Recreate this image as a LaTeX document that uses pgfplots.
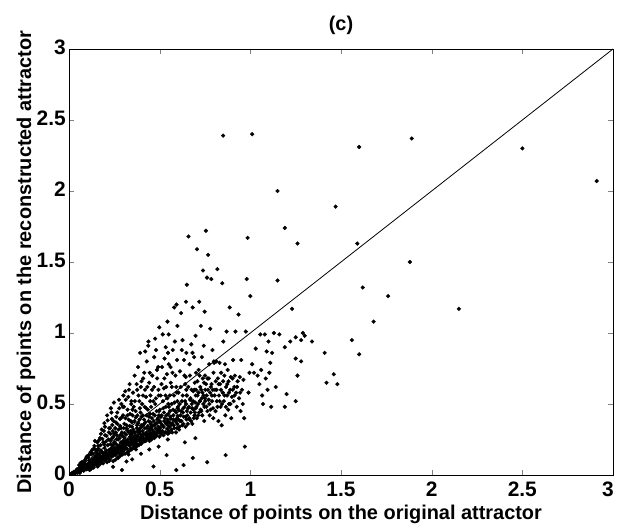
\documentclass[border=0pt]{standalone}
\usepackage{fontspec}
\setmainfont{Liberation Sans}
\usepackage{pgfplots}
\pgfplotsset{compat=1.18}
\newcommand{\labf}{\fontsize{20}{23}\selectfont\bfseries}
\newcommand{\tickf}{\fontsize{21}{24}\selectfont\bfseries}
\begin{document}
\begin{tikzpicture}
\begin{axis}[
  at={(0,0)}, anchor=south west,
  width=544bp, height=426bp, scale only axis,
  xmin=0, xmax=3, ymin=0, ymax=3,
  xtick={0,0.5,1,1.5,2,2.5,3}, ytick={0,0.5,1,1.5,2,2.5,3},
  xticklabels={0,0.5,1,1.5,2,2.5,{\hspace*{-10bp}3}},
  tick align=inside, major tick length=5bp,
  axis line style={line width=0.7pt},
  /pgf/number format/assume math mode=true,
  ticklabel style={font=\tickf, inner sep=1bp},
  xticklabel style={yshift=-6bp},
  yticklabel style={xshift=-2bp, yshift=2bp},
  title={(c)}, xlabel={Distance of points on the original attractor},
  ylabel={Distance of points on the reconstructed attractor},
  every axis title/.style={at={(axis description cs:0.5,1.056)}, anchor=center, font=\labf},
  every axis x label/.style={at={(axis description cs:0.5,-0.0915)}, anchor=center, font=\labf},
  every axis y label/.style={at={(axis description cs:-0.079,0.5)}, rotate=90, anchor=center, font=\labf},
]
\addplot[black, line width=0.8pt] coordinates {(0,0) (3,3)};
\addplot[only marks, mark=*, mark size=1.9pt, black] coordinates {
(0.012,0.008) (0.018,0.015) (0.024,0.010) (0.027,0.022) (0.031,0.018) (0.036,0.012) (0.038,0.030) (0.042,0.025) (0.045,0.041) (0.048,0.016)
(0.052,0.034) (0.055,0.021) (0.058,0.047) (0.061,0.038) (0.063,0.060) (0.066,0.029) (0.069,0.052) (0.071,0.043) (0.074,0.071) (0.077,0.036) (0.079,0.058) (0.082,0.049) (0.084,0.088) (0.087,0.062) (0.089,0.041) (0.092,0.075) (0.095,0.055) (0.098,0.130)
(0.101,0.066) (0.103,0.048) (0.106,0.081) (0.108,0.059) (0.111,0.102) (0.113,0.072) (0.115,0.054) (0.118,0.091) (0.120,0.067) (0.122,0.145) (0.124,0.084) (0.126,0.061) (0.128,0.110) (0.131,0.078) (0.133,0.096) (0.135,0.185) (0.137,0.070) (0.139,0.118) (0.141,0.088) (0.143,0.240) (0.145,0.104) (0.147,0.075) (0.148,0.132) (0.149,0.160)
(0.151,0.093) (0.153,0.112) (0.155,0.078) (0.157,0.140) (0.159,0.101) (0.161,0.205) (0.163,0.087) (0.165,0.122) (0.167,0.150) (0.169,0.098) (0.171,0.260) (0.173,0.116) (0.175,0.134) (0.177,0.172) (0.179,0.092) (0.181,0.320) (0.183,0.125) (0.185,0.108) (0.187,0.155) (0.189,0.230) (0.191,0.140) (0.193,0.118) (0.195,0.365) (0.196,0.190) (0.197,0.129) (0.198,0.102) (0.199,0.280) (0.200,0.160)
(0.202,0.132) (0.204,0.115) (0.206,0.172) (0.208,0.145) (0.210,0.420) (0.212,0.121) (0.214,0.210) (0.216,0.153) (0.218,0.135) (0.220,0.300) (0.222,0.178) (0.224,0.110) (0.226,0.162) (0.228,0.245) (0.230,0.141) (0.231,0.470) (0.233,0.188) (0.235,0.128) (0.237,0.170) (0.239,0.352) (0.240,0.150) (0.242,0.205) (0.243,0.058) (0.244,0.138) (0.245,0.270) (0.246,0.182) (0.247,0.160) (0.248,0.510) (0.249,0.225) (0.250,0.145) (0.236,0.395) (0.227,0.330)
(0.252,0.168) (0.254,0.190) (0.256,0.142) (0.258,0.300) (0.260,0.175) (0.262,0.215) (0.264,0.155) (0.266,0.440) (0.268,0.198) (0.270,0.162) (0.272,0.250) (0.274,0.182) (0.276,0.530) (0.278,0.210) (0.280,0.150) (0.282,0.345) (0.284,0.192) (0.286,0.230) (0.288,0.170) (0.290,0.405) (0.291,0.205) (0.292,0.035) (0.293,0.185) (0.294,0.275) (0.295,0.220) (0.296,0.165) (0.297,0.480) (0.298,0.240) (0.299,0.196) (0.300,0.560) (0.259,0.370) (0.271,0.120) (0.285,0.285) (0.263,0.250)
(0.302,0.205) (0.304,0.178) (0.306,0.262) (0.308,0.225) (0.310,0.590) (0.312,0.195) (0.314,0.240) (0.316,0.330) (0.318,0.212) (0.320,0.185) (0.322,0.420) (0.324,0.250) (0.326,0.228) (0.328,0.145) (0.330,0.300) (0.332,0.208) (0.334,0.640) (0.336,0.268) (0.338,0.235) (0.340,0.380) (0.341,0.190) (0.342,0.255) (0.343,0.500) (0.344,0.218) (0.345,0.282) (0.346,0.245) (0.347,0.340) (0.348,0.110) (0.349,0.230) (0.350,0.460) (0.305,0.360) (0.317,0.095) (0.327,0.550) (0.339,0.310)
(0.352,0.232) (0.354,0.265) (0.356,0.205) (0.358,0.300) (0.360,0.248) (0.362,0.700) (0.364,0.222) (0.366,0.280) (0.368,0.405) (0.370,0.255) (0.372,0.238) (0.374,0.330) (0.376,0.600) (0.378,0.270) (0.380,0.215) (0.382,0.365) (0.384,0.290) (0.386,0.250) (0.388,0.520) (0.390,0.242) (0.391,0.305) (0.392,0.860) (0.393,0.262) (0.394,0.440) (0.395,0.228) (0.396,0.285) (0.397,0.150) (0.398,0.350) (0.399,0.258) (0.400,0.660) (0.357,0.480) (0.369,0.180) (0.381,0.760) (0.387,0.315)
(0.402,0.272) (0.404,0.245) (0.406,0.310) (0.408,0.560) (0.410,0.262) (0.412,0.290) (0.414,0.390) (0.416,0.238) (0.418,0.330) (0.420,0.870) (0.422,0.280) (0.424,0.255) (0.426,0.470) (0.428,0.300) (0.430,0.268) (0.432,0.620) (0.434,0.345) (0.436,0.285) (0.438,0.940) (0.440,0.250) (0.441,0.410) (0.442,0.312) (0.443,0.180) (0.444,0.275) (0.445,0.720) (0.446,0.325) (0.447,0.292) (0.448,0.520) (0.449,0.262) (0.450,0.370) (0.415,0.720) (0.437,0.910)
(0.452,0.295) (0.454,0.340) (0.456,0.270) (0.458,0.600) (0.460,0.318) (0.462,0.285) (0.464,0.430) (0.466,0.060) (0.468,0.305) (0.470,0.830) (0.472,0.352) (0.474,0.290) (0.476,0.500) (0.478,0.328) (0.480,0.880) (0.482,0.275) (0.484,0.365) (0.486,0.680) (0.488,0.312) (0.490,0.400) (0.491,0.298) (0.492,0.760) (0.493,0.340) (0.494,0.200) (0.495,0.560) (0.496,0.322) (0.497,0.450) (0.498,1.040) (0.499,0.308) (0.500,0.380)
(0.502,0.330) (0.505,0.295) (0.507,0.410) (0.510,0.640) (0.512,0.352) (0.515,0.310) (0.517,0.990) (0.520,0.470) (0.522,0.338) (0.525,0.380) (0.527,0.820) (0.530,0.300) (0.532,0.560) (0.535,0.362) (0.537,0.420) (0.540,0.710) (0.541,0.325) (0.543,1.080) (0.544,0.390) (0.545,0.250) (0.546,0.860) (0.547,0.348) (0.548,0.500) (0.549,0.310) (0.550,0.990) (0.523,0.610) (0.538,0.140) (0.533,0.900)
(0.552,0.372) (0.555,0.340) (0.557,0.450) (0.560,0.760) (0.562,0.395) (0.565,0.320) (0.567,0.620) (0.570,0.365) (0.572,0.880) (0.575,0.420) (0.577,0.350) (0.580,1.180) (0.582,0.510) (0.585,0.382) (0.587,0.700) (0.590,0.300) (0.591,0.440) (0.592,0.035) (0.593,1.200) (0.594,0.398) (0.595,0.580) (0.596,0.810) (0.597,0.360) (0.598,1.050) (0.599,0.470) (0.600,0.415)
(0.603,0.392) (0.606,0.455) (0.609,0.340) (0.612,0.730) (0.615,0.420) (0.618,1.140) (0.620,0.380) (0.623,0.520) (0.626,0.950) (0.628,0.440) (0.631,0.360) (0.634,0.810) (0.636,0.478) (0.639,0.230) (0.641,0.640) (0.643,0.410) (0.645,1.220) (0.646,0.500) (0.647,0.860) (0.648,0.392) (0.649,0.560) (0.650,1.340) (0.632,0.070) (0.644,0.690)
(0.653,0.420) (0.656,0.470) (0.659,1.680) (0.662,0.395) (0.665,0.780) (0.668,0.530) (0.671,0.440) (0.674,0.920) (0.677,0.500) (0.680,0.360) (0.682,1.180) (0.685,0.590) (0.687,0.460) (0.690,0.830) (0.692,0.420) (0.694,0.650) (0.696,0.510) (0.697,0.260) (0.698,0.980) (0.699,0.470) (0.700,0.720) (0.683,0.120)
(0.703,0.480) (0.706,1.590) (0.709,0.560) (0.712,0.420) (0.715,0.740) (0.718,1.220) (0.721,0.520) (0.724,0.620) (0.727,1.050) (0.730,0.450) (0.733,0.830) (0.736,0.580) (0.739,1.440) (0.741,0.500) (0.743,0.910) (0.745,0.650) (0.746,0.380) (0.748,1.150) (0.749,0.540) (0.750,0.700)
(0.752,0.600) (0.755,1.720) (0.758,0.480) (0.761,1.390) (0.764,0.680) (0.767,1.550) (0.770,0.530) (0.773,0.780) (0.776,0.420) (0.779,1.030) (0.782,0.620) (0.785,1.380) (0.788,0.560) (0.791,0.880) (0.794,0.470) (0.797,0.720) (0.799,0.800) (0.762,0.090)
(0.800,0.790) (0.805,0.600) (0.808,0.450) (0.812,0.800) (0.815,0.520) (0.818,1.450) (0.821,0.680) (0.824,0.380) (0.827,0.560) (0.830,0.790) (0.833,0.640) (0.836,0.480) (0.839,0.720) (0.842,0.350) (0.845,1.350) (0.848,0.580) (0.851,0.940) (0.854,0.520) (0.857,0.700) (0.860,0.780) (0.862,0.420) (0.864,0.140) (0.866,0.620) (0.869,1.010) (0.872,0.560) (0.875,0.740) (0.878,0.460) (0.880,0.660) (0.883,0.500) (0.886,1.180) (0.889,0.600) (0.892,0.690) (0.895,0.400) (0.898,0.550) (0.850,2.390)
(0.902,0.680) (0.905,0.810) (0.908,0.520) (0.912,0.620) (0.915,0.700) (0.918,1.010) (0.922,0.580) (0.925,0.480) (0.930,0.660) (0.935,1.130) (0.938,0.540) (0.942,0.690) (0.946,0.450) (0.950,0.810) (0.954,0.600) (0.958,0.500) (0.962,0.670) (0.966,0.400) (0.970,0.200) (0.975,1.010) (0.980,1.380) (0.985,1.670) (0.990,0.580) (0.995,0.720)
(1.010,2.400) (1.000,1.260) (1.010,0.780) (1.020,0.720) (1.030,0.890) (1.040,0.700) (1.050,0.640) (1.055,0.990) (1.060,0.740) (1.065,0.560) (1.070,0.500) (1.080,0.990) (1.085,0.680) (1.090,0.870) (1.095,0.600) (1.100,0.940) (1.105,0.720) (1.110,0.790) (1.115,0.480) (1.120,0.860) (1.130,1.000) (1.140,0.620) (1.150,1.370) (1.150,2.000) (1.160,0.990) (1.190,1.740) (1.190,0.900) (1.190,0.480) (1.200,0.570) (1.220,0.940) (1.230,1.170) (1.250,0.970) (1.250,0.520) (1.250,0.820) (1.260,1.630) (1.260,0.700) (1.280,0.950) (1.280,0.800) (1.290,1.000) (1.300,0.980)
(1.340,0.940) (1.410,0.860) (1.420,0.650) (1.460,0.710) (1.480,0.640) (1.560,0.950) (1.600,0.850) (1.680,1.080) (1.760,1.260) (1.620,1.320) (2.150,1.170) (1.880,1.500) (1.590,1.630) (1.470,1.890) (2.910,2.070) (2.500,2.300) (1.600,2.310) (1.890,2.370)
(0.056,0.070) (0.064,0.085) (0.072,0.092) (0.081,0.030) (0.088,0.105) (0.094,0.118) (0.097,0.040) (0.060,0.015)
(0.104,0.125) (0.109,0.140) (0.114,0.035) (0.119,0.160) (0.123,0.045) (0.127,0.175) (0.132,0.150) (0.136,0.052) (0.140,0.205) (0.144,0.125) (0.146,0.180)
(0.152,0.170) (0.156,0.230) (0.158,0.060) (0.162,0.185) (0.166,0.245) (0.170,0.075) (0.174,0.210) (0.176,0.290) (0.180,0.165) (0.184,0.255) (0.188,0.082) (0.192,0.310) (0.194,0.215) (0.198,0.340)
(0.203,0.235) (0.207,0.275) (0.209,0.090) (0.213,0.385) (0.217,0.250) (0.221,0.330) (0.223,0.100) (0.229,0.290) (0.232,0.215) (0.234,0.440) (0.238,0.260) (0.241,0.310) (0.244,0.098) (0.246,0.380) (0.249,0.290)
(0.251,0.230) (0.255,0.330) (0.257,0.108) (0.261,0.410) (0.265,0.280) (0.267,0.360) (0.269,0.125) (0.273,0.320) (0.277,0.470) (0.279,0.260) (0.281,0.395) (0.283,0.135) (0.287,0.330) (0.289,0.500) (0.292,0.300) (0.295,0.145) (0.298,0.420) (0.300,0.270)
(0.301,0.330) (0.303,0.480) (0.307,0.295) (0.309,0.150) (0.311,0.400) (0.313,0.530) (0.315,0.285) (0.319,0.350) (0.321,0.160) (0.323,0.460) (0.325,0.310) (0.329,0.390) (0.331,0.600) (0.333,0.170) (0.335,0.345) (0.337,0.430) (0.340,0.285) (0.344,0.520) (0.346,0.180) (0.348,0.370) (0.350,0.300)
(0.351,0.420) (0.353,0.580) (0.355,0.320) (0.359,0.190) (0.361,0.380) (0.363,0.520) (0.365,0.300) (0.367,0.450) (0.371,0.200) (0.373,0.640) (0.375,0.350) (0.377,0.420) (0.379,0.310) (0.383,0.560) (0.385,0.210) (0.389,0.390) (0.391,0.470) (0.393,0.330) (0.396,0.620) (0.398,0.220) (0.400,0.410)
(0.401,0.340) (0.403,0.500) (0.405,0.230) (0.407,0.420) (0.409,0.680) (0.411,0.355) (0.413,0.250) (0.417,0.480) (0.419,0.600) (0.421,0.370) (0.423,0.240) (0.425,0.550) (0.427,0.420) (0.429,0.800) (0.431,0.330) (0.433,0.260) (0.435,0.460) (0.439,0.380) (0.442,0.650) (0.444,0.240) (0.447,0.430) (0.449,0.560)
(0.451,0.360) (0.453,0.480) (0.455,0.250) (0.457,0.400) (0.459,0.700) (0.461,0.345) (0.463,0.270) (0.465,0.520) (0.467,0.380) (0.469,0.620) (0.471,0.260) (0.473,0.420) (0.475,0.960) (0.477,0.360) (0.479,0.540) (0.481,0.280) (0.483,0.450) (0.485,0.740) (0.487,0.390) (0.489,0.300) (0.493,0.600) (0.496,0.420) (0.499,0.270)
(0.501,0.460) (0.503,0.370) (0.506,0.560) (0.508,0.290) (0.511,0.420) (0.513,0.760) (0.516,0.350) (0.518,0.520) (0.521,0.280) (0.524,0.440) (0.526,0.680) (0.528,0.400) (0.531,0.300) (0.534,0.480) (0.536,0.620) (0.539,0.370) (0.542,0.540) (0.545,0.290) (0.548,0.430) (0.550,0.780)
(0.551,0.480) (0.554,0.300) (0.556,0.560) (0.559,0.410) (0.561,0.650) (0.564,0.360) (0.566,0.500) (0.569,0.300) (0.571,0.720) (0.574,0.460) (0.576,0.390) (0.579,0.560) (0.581,0.330) (0.584,0.940) (0.586,0.450) (0.589,0.380) (0.592,0.620) (0.595,0.330) (0.598,0.520)
(0.601,0.480) (0.604,0.580) (0.607,0.320) (0.610,0.500) (0.613,0.380) (0.616,0.620) (0.619,0.450) (0.622,0.880) (0.625,0.350) (0.627,0.560) (0.630,0.470) (0.633,0.410) (0.637,0.700) (0.640,0.520) (0.643,0.340) (0.647,0.600) (0.650,0.450)
(0.651,0.560) (0.655,0.360) (0.658,0.620) (0.661,0.480) (0.664,0.400) (0.667,0.700) (0.670,0.540) (0.673,0.380) (0.676,0.600) (0.679,0.470) (0.681,0.860) (0.684,0.520) (0.688,0.400) (0.691,0.600) (0.695,0.440) (0.699,0.560)
(0.701,0.600) (0.705,0.400) (0.708,0.660) (0.711,0.500) (0.714,0.580) (0.717,0.440) (0.720,0.700) (0.723,0.520) (0.726,0.460) (0.729,0.600) (0.732,0.540) (0.735,0.420) (0.738,0.680) (0.742,0.560) (0.747,0.480)
(0.751,0.520) (0.756,0.640) (0.759,0.560) (0.763,0.450) (0.766,0.600) (0.771,0.680) (0.774,0.500) (0.778,0.580) (0.781,0.460) (0.786,0.640) (0.789,0.520) (0.793,0.600) (0.796,0.400)
(0.803,0.560) (0.809,0.660) (0.814,0.600) (0.819,0.480) (0.825,0.640) (0.831,0.520) (0.838,0.600) (0.844,0.500) (0.850,0.660) (0.858,0.560) (0.865,0.480) (0.873,0.640) (0.882,0.580) (0.890,0.500) (0.903,0.600) (0.913,0.560) (0.927,0.620) (0.944,0.580)
};
\end{axis}
\pgfresetboundingbox
\path[use as bounding box] (-69bp,-50bp) rectangle (548bp,475bp);
\end{tikzpicture}
\end{document}
